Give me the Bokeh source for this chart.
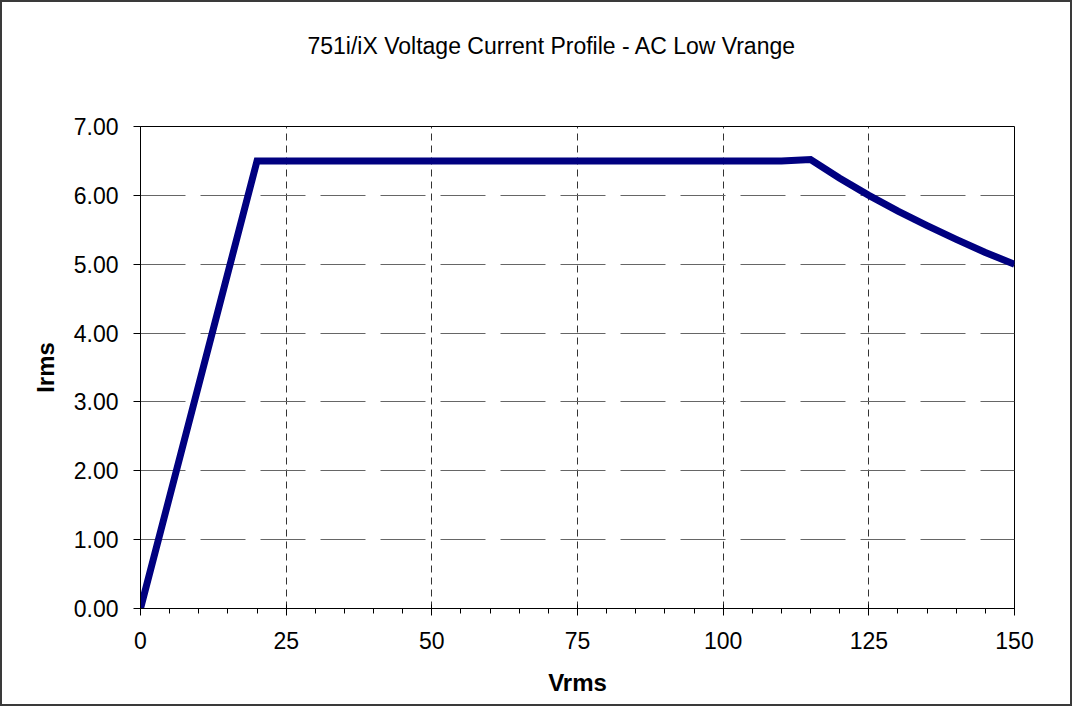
from bokeh.plotting import figure
from bokeh.models import Range1d, FixedTicker, NumeralTickFormatter, Title
from bokeh.embed import file_html
from bokeh.resources import INLINE

# Data
vrms = [0, 20, 110, 115, 120, 125, 130, 135, 140, 145, 150]
irms = [0.0, 6.5, 6.5, 6.52, 6.25, 6.0, 5.77, 5.56, 5.36, 5.17, 5.0]
x_ticks = [0, 25, 50, 75, 100, 125, 150]
x_minor = list(range(0, 151, 5))
y_ticks = [0, 1, 2, 3, 4, 5, 6, 7]

title_text = "751i/iX Voltage Current Profile - AC Low Vrange"
FONT = "Liberation Sans"

W, H = 1072, 706
p = figure(width=W, height=H, output_backend="svg", toolbar_location=None,
           x_range=Range1d(0, 150), y_range=Range1d(0, 7),
           min_border_left=138, min_border_right=60, min_border_top=124, min_border_bottom=100)
p.styles = {"border": "2px solid #3a3a3a"}
p.background_fill_color = "white"
p.border_fill_color = "white"
p.outline_line_color = "black"
p.outline_line_width = 1

# spacer between frame and title, then the title itself
spacer = Title(text=" ", text_font_size="10px", standoff=55)
p.add_layout(spacer, "above")
t = Title(text=title_text, align="left", offset=167, standoff=0, text_font=FONT,
          text_font_size="23px", text_font_style="normal", text_color="black")
p.add_layout(t, "above")

p.line(vrms, irms, line_color="#000080", line_width=7, line_join="miter")

# X axis
xa = p.xaxis[0]
xa.ticker = FixedTicker(ticks=x_ticks, minor_ticks=x_minor)
xa.axis_label = "Vrms"
xa.axis_label_text_font = FONT
xa.axis_label_text_font_size = "24px"
xa.axis_label_text_font_style = "bold"
xa.axis_label_text_color = "black"
xa.axis_label_standoff = 17
xa.major_label_text_font = FONT
xa.major_label_text_font_size = "23px"
xa.major_label_text_color = "black"
xa.major_label_standoff = 16
xa.major_tick_in = 4
xa.major_tick_out = 7
xa.minor_tick_in = 0
xa.minor_tick_out = 5
xa.axis_line_color = "black"
xa.major_tick_line_color = "black"
xa.minor_tick_line_color = "black"

# Y axis
ya = p.yaxis[0]
ya.ticker = FixedTicker(ticks=y_ticks)
ya.formatter = NumeralTickFormatter(format="0.00")
ya.axis_label = "Irms"
ya.axis_label_text_font = FONT
ya.axis_label_text_font_size = "24px"
ya.axis_label_text_font_style = "bold"
ya.axis_label_text_color = "black"
ya.axis_label_standoff = 12
ya.major_label_text_font = FONT
ya.major_label_text_font_size = "23px"
ya.major_label_text_color = "black"
ya.major_label_standoff = 15
ya.major_tick_in = 0
ya.major_tick_out = 7
ya.minor_tick_line_color = None
ya.axis_line_color = "black"
ya.major_tick_line_color = "black"

# Grids
p.xgrid.ticker = FixedTicker(ticks=x_ticks)
p.xgrid.grid_line_color = "#333333"
p.xgrid.grid_line_dash = "7 5"
p.xgrid.grid_line_width = 1
p.ygrid.ticker = FixedTicker(ticks=y_ticks)
p.ygrid.grid_line_color = "#666666"
p.ygrid.grid_line_dash = "45 15"
p.ygrid.grid_line_width = 1

open("out.html", "w").write(file_html(p, INLINE))
